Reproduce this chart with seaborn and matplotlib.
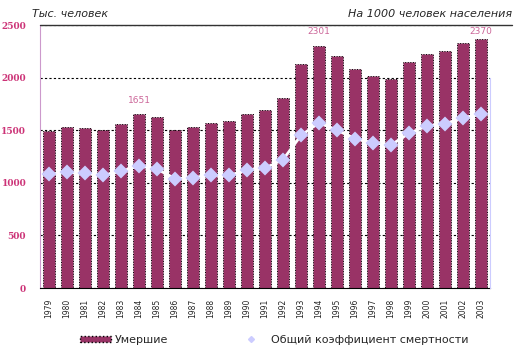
import matplotlib
matplotlib.use("Agg")
import matplotlib.pyplot as plt
from matplotlib.lines import Line2D
from matplotlib.patches import Patch
import seaborn as sns
import pandas as pd

# data
years = ["1979", "1980", "1981", "1982", "1983", "1984", "1985", "1986", "1987",
         "1988", "1989", "1990", "1991", "1992", "1993", "1994", "1995", "1996",
         "1997", "1998", "1999", "2000", "2001", "2002", "2003"]
deaths = [1490, 1526, 1520, 1504, 1563, 1651, 1625, 1498, 1531, 1569, 1583, 1656,
          1691, 1807, 2129, 2301, 2204, 2082, 2015, 1988, 2144, 2225, 2255, 2332, 2370]
rate = [10.8, 11.0, 10.9, 10.7, 11.1, 11.6, 11.3, 10.4, 10.5, 10.7, 10.7, 11.2,
        11.4, 12.2, 14.5, 15.7, 15.0, 14.2, 13.8, 13.6, 14.7, 15.4, 15.6, 16.2, 16.5]
labelled_years = ["1984", "1994", "2003"]
label_offsets = [7, 7, 2]

bar_color = "#993366"
dot_color = "#CCCCFF"
pink = "#CC3377"

df = pd.DataFrame({"year": years, "deaths": deaths, "rate": rate})

sns.set_style("white")
plt.rcParams["font.family"] = ["DejaVu Sans"]

fig = plt.figure(figsize=(5.19, 3.6), dpi=100)
ax = fig.add_axes([40 / 519, 1 - 288 / 360, 450 / 519, 263 / 360])

sns.barplot(data=df, x="year", y="deaths", color=bar_color, saturation=1, width=0.72,
            edgecolor="black", linewidth=0.7, linestyle=":", ax=ax, zorder=2)
ax.set_axisbelow(True)
ax.yaxis.grid(True, linestyle=(0, (2, 2)), color="black", linewidth=0.8)
ax.xaxis.grid(False)
ax.set_ylim(0, 2500)
ax.set_xlim(-0.5, len(years) - 0.5)
ax.set_yticks([0, 500, 1000, 1500, 2000, 2500])
ax.set_xlabel("")
ax.set_ylabel("")
ax.tick_params(axis="y", length=0, pad=10, labelsize=6.5, labelcolor=pink)
for t in ax.get_yticklabels():
    t.set_fontfamily("DejaVu Serif")
    t.set_fontweight("bold")
ax.tick_params(axis="x", length=0, pad=8, labelsize=5.5, labelrotation=90)
for s in ["top", "right"]:
    ax.spines[s].set_visible(False)
ax.spines["left"].set_color("#CC99CC")
ax.spines["bottom"].set_color("black")

# value labels
for yr, off in zip(labelled_years, label_offsets):
    i = years.index(yr)
    ax.annotate(str(deaths[i]), xy=(i, deaths[i]), xytext=(0, off),
                textcoords="offset points", ha="center", va="bottom",
                fontsize=6.5, color="#CC6699")

# rate on hidden second axis
ax2 = ax.twinx()
sns.pointplot(data=df, x="year", y="rate", ax=ax2, color="white", markers="D",
              markersize=6.5, linewidth=2, markerfacecolor=dot_color,
              markeredgecolor=dot_color)
ax2.set_ylim(0, 25)
ax2.set_xlim(-0.5, len(years) - 0.5)
ax2.set_yticks([])
ax2.set_ylabel("")
ax2.set_xlabel("")
ax2.grid(False)
for s in ["top", "left", "bottom"]:
    ax2.spines[s].set_visible(False)
ax2.spines["right"].set_color(dot_color)
ax2.spines["right"].set_bounds(0, 20)

fig.add_artist(Line2D([40 / 519, 512 / 519], [1 - 25 / 360] * 2, color="#333333", lw=1))

fig.text(32 / 519, 1 - 14 / 360, "Тыс. человек", style="italic", fontsize=8, va="center")
fig.text(512 / 519, 1 - 14 / 360, "На 1000 человек населения", style="italic",
         fontsize=8, va="center", ha="right")

handles = [Patch(facecolor=bar_color, edgecolor="black", linestyle=":"),
           Line2D([], [], marker="D", color="none", markerfacecolor=dot_color,
                  markeredgecolor=dot_color, markersize=3)]
fig.legend(handles, ["Умершие", "Общий коэффициент смертности"], loc="center",
           bbox_to_anchor=(274 / 519, 1 - 340 / 360), ncol=2, frameon=False,
           fontsize=8, handlelength=2.8, handleheight=0.5, columnspacing=6,
           handletextpad=0.4)

fig.savefig("out.png", dpi=100)
